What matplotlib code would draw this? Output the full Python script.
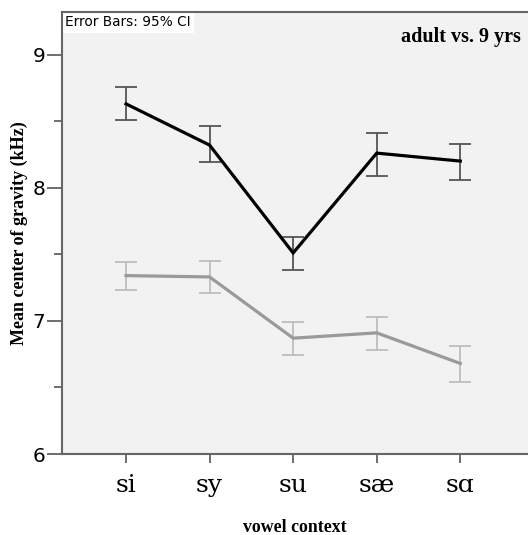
import matplotlib
matplotlib.use("Agg")
import matplotlib.pyplot as plt
from matplotlib.ticker import MultipleLocator

categories = ["si", "sy", "su", "sæ", "sɑ"]
adult_mean = [8.63, 8.32, 7.51, 8.26, 8.20]
adult_low = [8.51, 8.19, 7.38, 8.09, 8.06]
adult_high = [8.76, 8.46, 7.63, 8.41, 8.33]
child_mean = [7.34, 7.33, 6.87, 6.91, 6.68]
child_low = [7.23, 7.21, 6.74, 6.78, 6.54]
child_high = [7.44, 7.45, 6.99, 7.03, 6.81]
yticks = [6, 7, 8, 9]

fig = plt.figure(figsize=(5.28, 5.35), dpi=100)
ax = fig.add_axes([0.1174, 0.1514, 0.8826, 0.8262])
ax.set_facecolor("#f2f2f2")
x = list(range(len(categories)))

def draw(mean, low, high, lc, ec, lw):
    ax.plot(x, mean, color=lc, lw=lw, solid_joinstyle="miter", zorder=3)
    yerr = [[m - l for m, l in zip(mean, low)], [h - m for m, h in zip(mean, high)]]
    ax.errorbar(x, mean, yerr=yerr, fmt="none", ecolor=ec, elinewidth=1.3,
                capsize=7.8, capthick=1.3, zorder=2)

draw(adult_mean, adult_low, adult_high, "#000000", "#555555", 2.3)
draw(child_mean, child_low, child_high, "#9a9a9a", "#bdbdbd", 2.3)

ax.set_xlim(-0.766, 4.81)
ax.set_ylim(6, 9.32)
ax.set_yticks(yticks)
ax.yaxis.set_minor_locator(MultipleLocator(0.5))
ax.set_yticklabels([str(t) for t in yticks], fontsize=14.5, family=["DejaVu Sans"])
ax.set_xticks(x)
ax.set_xticklabels(categories, fontsize=18, family=["DejaVu Serif"])
ax.tick_params(axis="y", which="major", length=11, width=1.2, color="#555555", pad=1)
ax.tick_params(axis="y", which="minor", length=6, width=1.2, color="#555555")
ax.tick_params(axis="x", length=6.5, width=1.2, color="#555555", pad=8)

for s in ["left", "top", "bottom"]:
    ax.spines[s].set_color("#666666")
    ax.spines[s].set_linewidth(1.5)
    ax.spines[s].set_zorder(5)
ax.spines["right"].set_visible(False)

ax.set_ylabel("Mean center of gravity (kHz)", fontsize=13, fontweight="bold",
              family=["Liberation Serif"], labelpad=3)
ax.set_xlabel("vowel context", fontsize=12.8, fontweight="bold",
              family=["Liberation Serif"], labelpad=16)

ax.text(0.006, 0.993, "Error Bars: 95% CI", transform=ax.transAxes, ha="left", va="top",
        fontsize=9.8, family=["DejaVu Sans"], zorder=4,
        bbox=dict(boxstyle="square,pad=0.3", fc="white", ec="none"))
ax.text(0.985, 0.965, "adult vs. 9 yrs", transform=ax.transAxes, ha="right", va="top",
        fontsize=14.5, fontweight="bold", family=["Liberation Serif"])

fig.savefig("out.png", dpi=100)
